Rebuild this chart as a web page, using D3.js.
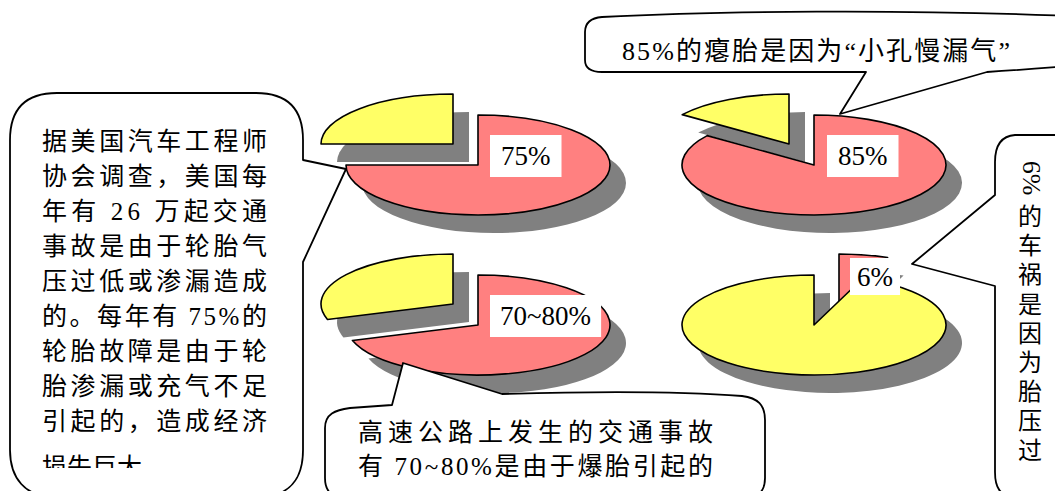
<!DOCTYPE html>
<html>
<head>
<meta charset="utf-8">
<script src="https://cdn.jsdelivr.net/npm/d3@7"></script>
<style>
  html, body { margin: 0; padding: 0; background: #fff; overflow: hidden; }
  svg text { font-family: "Liberation Serif", "Noto Sans CJK SC", serif; fill: #000; }
</style>
</head>
<body>
<div id="chart"></div>
<script>
// data
var pieNames = ["sae", "slowLeak", "highway", "crash"];
var leakShare = [75, 85, 70, 6];      // red slice
var otherShare = [25, 15, 30, 94];    // yellow slice
var pieLabels = ["75%", "85%", "70~80%", "6%"];

var noteLeft = [
  "据美国汽车工程师",
  "协会调查，美国每",
  "年有 26 万起交通",
  "事故是由于轮胎气",
  "压过低或渗漏造成",
  "的。每年有 75%的",
  "轮胎故障是由于轮",
  "胎渗漏或充气不足",
  "引起的，造成经济",
  "损失巨大。"
];
var noteTop = "85%的瘪胎是因为“小孔慢漏气”";
var noteBottom = ["高速公路上发生的交通事故", "有 70~80%是由于爆胎引起的"];
var noteRightHead = "6%";
var noteRightBody = "的车祸是因为胎压过";

// layout
var width = 1055, height = 491;
var red = "#ff8080", yellow = "#ffff66", shade = "#808080";
var R = 100, rx = 132, ry = 50;
var centers = [[478, 165], [814, 165], [478, 325], [814, 325]];
var labelPos = [[490, 135, 11, 42], [827, 135, 11, 42], [490, 295, 10, 42], [850, 258, 7, 37]];

var svg = d3.select("#chart").append("svg")
  .attr("width", width)
  .attr("height", height);

svg.append("rect").attr("width", width).attr("height", height).attr("fill", "#fff");

var pie = d3.pie().sort(null).value(function (d) { return d.v; });
var arc = d3.arc().innerRadius(0).outerRadius(R);

function sliceTransform(d, ox, oy) {
  return "translate(" + (d.dx + ox) + "," + (d.dy + oy) + ") scale(" + rx / R + "," + ry / R + ")";
}

pieNames.forEach(function (name, i) {
  var slices = pie([{ v: leakShare[i], c: red }, { v: otherShare[i], c: yellow }]);
  var small = d3.min(slices, function (d) { return d.value; });
  slices.forEach(function (d) {
    var mid = (d.startAngle + d.endAngle) / 2;
    var out = d.value === small;
    d.dx = out ? Math.sign(Math.sin(mid)) * 25 : 0;
    d.dy = out ? -21 : 0;
  });

  var g = svg.append("g")
    .attr("class", "pie " + name)
    .attr("transform", "translate(" + centers[i] + ")");

  //shadow first
  g.selectAll("path.shadow").data(slices).enter().append("path")
    .attr("class", "shadow")
    .attr("transform", function (d) { return sliceTransform(d, 16, 18); })
    .attr("d", arc)
    .attr("fill", shade);

  g.selectAll("path.slice").data(slices).enter().append("path")
    .attr("class", "slice")
    .attr("transform", function (d) { return sliceTransform(d, 0, 0); })
    .attr("d", arc)
    .attr("fill", function (d) { return d.data.c; })
    .attr("stroke", "#000")
    .attr("stroke-width", 1.6)
    .attr("stroke-linejoin", "round")
    .attr("vector-effect", "non-scaling-stroke");

  //white label box
  var lp = labelPos[i];
  var lab = svg.append("g").attr("class", "label");
  var box = lab.append("rect").attr("fill", "#fff");
  var t = lab.append("text")
    .attr("font-size", 27)
    .attr("dominant-baseline", "central")
    .attr("x", lp[0] + lp[2])
    .attr("y", lp[1] + lp[3] / 2)
    .text(pieLabels[i]);
  var bb = t.node().getBBox();
  box.attr("x", lp[0]).attr("y", lp[1])
    .attr("width", bb.width + 2 * lp[2]).attr("height", lp[3]);
});

// callouts
var callouts = svg.append("g").attr("class", "callouts")
  .attr("fill", "#fff")
  .attr("stroke", "#000")
  .attr("stroke-width", 1.8)
  .attr("stroke-linejoin", "round");

// left note
callouts.append("path").attr("d",
  "M303,160 L346,169 L303,262 L303,450 C303,478 290,497 258,497 L55,497 C25,497 10,478 10,450 " +
  "L10,140 C10,110 25,93 57,93 L256,93 C288,93 303,110 303,140 Z");
// top note
callouts.append("path").attr("d",
  "M866,72 L840,114 L987,72 C1020,70 1045,68 1070,66 L1070,16 C900,9 720,11 602,17 " +
  "C590,18 585,24 585,32 L585,60 C585,68 590,72 602,72 Z");
// bottom note
callouts.append("path").attr("d",
  "M392,405 L403,363 L502,394 C600,391 690,392 742,396 C758,398 765,405 765,420 L765,478 " +
  "C765,492 758,498 742,498 L348,498 C332,498 325,492 325,478 L325,428 C325,414 335,410 350,408 Z");
// right note
callouts.append("path").attr("d",
  "M995,195 L912,264 L995,286 L995,472 C995,488 1000,496 1015,497 L1070,497 L1070,135 " +
  "L1015,135 C1001,136 995,145 995,162 Z");

// left note text
svg.append("clipPath").attr("id", "clipLeft")
  .append("rect").attr("x", 0).attr("y", 0).attr("width", 310).attr("height", 468);

svg.append("g").attr("clip-path", "url(#clipLeft)")
  .selectAll("text").data(noteLeft).enter().append("text")
  .attr("x", 42)
  .attr("y", function (d, i) { return 141 + i * 35 + (i === noteLeft.length - 1 ? 11 : 0); })
  .attr("dominant-baseline", "central")
  .attr("font-size", 25)
  .attr("textLength", function (d, i) { return i < noteLeft.length - 1 ? 225 : null; })
  .attr("lengthAdjust", "spacing")
  .text(function (d) { return d; });

// top note text
svg.append("text")
  .attr("x", 622).attr("y", 51)
  .attr("dominant-baseline", "central")
  .attr("font-size", 26)
  .attr("textLength", 388)
  .attr("lengthAdjust", "spacing")
  .text(noteTop);

// bottom note text
svg.selectAll("text.bottom").data(noteBottom).enter().append("text")
  .attr("class", "bottom")
  .attr("x", 358)
  .attr("y", function (d, i) { return 432 + i * 34.5; })
  .attr("dominant-baseline", "central")
  .attr("font-size", 25)
  .attr("textLength", 355)
  .attr("lengthAdjust", "spacing")
  .text(function (d) { return d; });

// right note text (vertical)
svg.append("text")
  .attr("transform", "translate(1031,178) rotate(90)")
  .attr("text-anchor", "middle")
  .attr("dominant-baseline", "central")
  .attr("font-size", 26)
  .text(noteRightHead);

svg.selectAll("text.vert").data(Array.from(noteRightBody)).enter().append("text")
  .attr("class", "vert")
  .attr("x", 1030)
  .attr("y", function (d, i) { return 217 + i * 29.2; })
  .attr("text-anchor", "middle")
  .attr("dominant-baseline", "central")
  .attr("font-size", 24)
  .text(function (d) { return d; });
</script>
</body>
</html>
